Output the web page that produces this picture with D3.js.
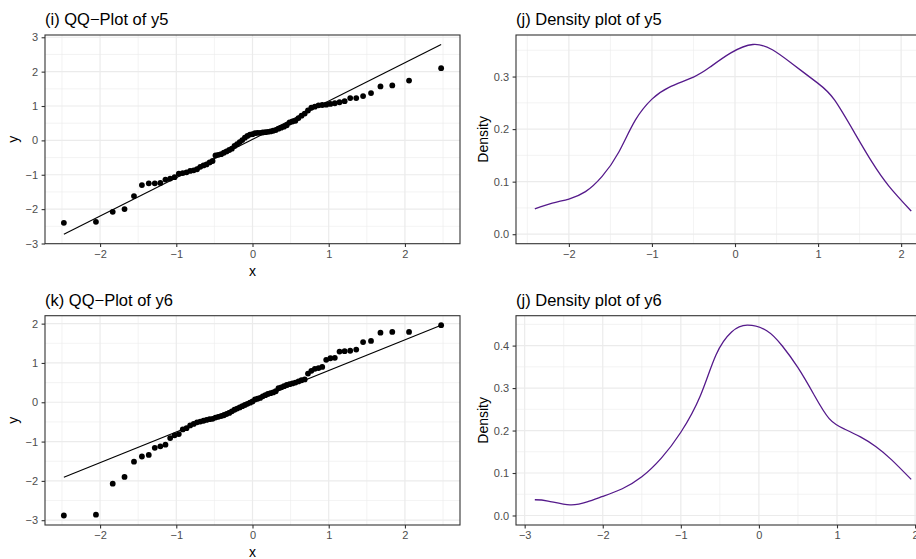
<!DOCTYPE html>
<html>
<head>
<meta charset="utf-8">
<script src="https://cdn.jsdelivr.net/npm/d3@7"></script>
<style>
  html, body { margin: 0; padding: 0; background: #ffffff; }
  svg { display: block; }
  text { font-family: "Liberation Sans", Arial, Helvetica, sans-serif; }
</style>
</head>
<body>
<div id="chart"></div>
<script>
// ---------- data ----------
// theoretical normal quantiles (n = 75)
const qqX = [-2.475,-2.054,-1.834,-1.679,-1.555,-1.451,-1.361,-1.282,-1.209,-1.142,
  -1.080,-1.022,-0.967,-0.915,-0.866,-0.818,-0.772,-0.728,-0.685,-0.643,
  -0.603,-0.563,-0.524,-0.486,-0.449,-0.412,-0.376,-0.341,-0.305,-0.271,
  -0.236,-0.202,-0.168,-0.134,-0.100,-0.067,-0.033,0.000,0.033,0.067,
  0.100,0.134,0.168,0.202,0.236,0.271,0.305,0.341,0.376,0.412,
  0.449,0.486,0.524,0.563,0.603,0.643,0.685,0.728,0.772,0.818,
  0.866,0.915,0.967,1.022,1.080,1.142,1.209,1.282,1.361,1.451,
  1.555,1.679,1.834,2.054,2.475];

const y5 = [-2.40,-2.37,-2.08,-2.00,-1.62,-1.30,-1.25,-1.25,-1.24,-1.14,
  -1.11,-1.07,-0.97,-0.95,-0.93,-0.89,-0.87,-0.84,-0.77,-0.73,
  -0.70,-0.64,-0.60,-0.44,-0.42,-0.40,-0.36,-0.32,-0.28,-0.24,
  -0.16,-0.11,-0.05,0.01,0.08,0.13,0.17,0.18,0.21,0.22,
  0.22,0.23,0.24,0.25,0.26,0.28,0.30,0.34,0.37,0.40,
  0.44,0.52,0.55,0.57,0.65,0.72,0.78,0.87,0.95,0.98,
  1.02,1.03,1.04,1.06,1.08,1.11,1.14,1.23,1.23,1.29,
  1.375,1.57,1.60,1.74,2.10];

const y6 = [-2.88,-2.86,-2.07,-1.90,-1.51,-1.38,-1.34,-1.16,-1.12,-1.08,
  -0.91,-0.84,-0.81,-0.69,-0.66,-0.59,-0.55,-0.51,-0.49,-0.47,
  -0.45,-0.43,-0.42,-0.39,-0.37,-0.35,-0.33,-0.30,-0.27,-0.23,
  -0.19,-0.16,-0.13,-0.10,-0.07,-0.04,-0.01,0.02,0.07,0.09,
  0.11,0.15,0.18,0.21,0.23,0.25,0.28,0.36,0.38,0.41,
  0.44,0.46,0.48,0.50,0.53,0.56,0.58,0.73,0.80,0.85,
  0.87,0.90,1.08,1.12,1.13,1.29,1.30,1.31,1.34,1.53,
  1.56,1.77,1.79,1.79,1.96];

const qqLineX = [-2.475, 2.475];
const qqLine5 = [-2.73, 2.79];
const qqLine6 = [-1.91, 1.96];

const dens5X = [-2.41,-2.2,-2.0,-1.8,-1.6,-1.4,-1.2,-1.0,-0.8,-0.5,-0.3,-0.05,0.216,0.45,0.7,1.0,1.2,1.45,1.65,1.85,2.121];
const dens5Y = [0.048,0.059,0.067,0.081,0.110,0.156,0.217,0.257,0.279,0.299,0.318,0.345,0.361,0.351,0.323,0.287,0.255,0.190,0.137,0.092,0.044];

const dens6X = [-2.87,-2.7,-2.42,-2.2,-2.0,-1.75,-1.5,-1.25,-1.0,-0.75,-0.55,-0.35,-0.15,0.1,0.3,0.5,0.7,0.9,1.1,1.3,1.5,1.7,1.95];
const dens6Y = [0.037,0.034,0.025,0.032,0.045,0.063,0.091,0.135,0.196,0.282,0.378,0.432,0.448,0.435,0.399,0.348,0.286,0.228,0.203,0.185,0.162,0.131,0.085];

const qqXTicks = [-2,-1,0,1,2];
const y5Ticks = [-3,-2,-1,0,1,2,3];
const y6Ticks = [-3,-2,-1,0,1,2];
const d5XTicks = [-2,-1,0,1,2];
const d5YTicks = [0,0.1,0.2,0.3];
const d6XTicks = [-3,-2,-1,0,1,2];
const d6YTicks = [0,0.1,0.2,0.3,0.4];

const titles = ["(i) QQ\u2212Plot of y5", "(j) Density plot of y5", "(k) QQ\u2212Plot of y6", "(j) Density plot of y6"];

// ---------- drawing ----------
const W = 916, H = 559;
const svg = d3.select("#chart").append("svg").attr("width", W).attr("height", H);
svg.append("rect").attr("width", W).attr("height", H).attr("fill", "#fff");

const fmtMinus = s => s.replace("-", "\u2212");

function expand(ext) { const r = ext[1] - ext[0]; return [ext[0] - 0.05 * r, ext[1] + 0.05 * r]; }

function minorBreaks(ticks, dom) {
  const step = ticks[1] - ticks[0];
  const out = [];
  for (let t = ticks[0] - step / 2; t <= ticks[ticks.length - 1] + step / 2 + 1e-9; t += step) {
    if (t >= dom[0] && t <= dom[1]) out.push(t);
  }
  return out;
}

function panel(opt) {
  const { left, right, top, bottom, xDom, yDom, xTicks, yTicks, yFmt, title, xTitle, yTitle, yTitleX } = opt;
  const g = svg.append("g");
  const x = d3.scaleLinear().domain(xDom).range([left, right]);
  const y = d3.scaleLinear().domain(yDom).range([bottom, top]);
  const clipId = "clip" + Math.round(left) + "_" + Math.round(top);
  svg.append("clipPath").attr("id", clipId).append("rect")
    .attr("x", left).attr("y", top).attr("width", right - left).attr("height", bottom - top);

  const grid = g.append("g");
  minorBreaks(xTicks, xDom).forEach(v => grid.append("line")
    .attr("x1", x(v)).attr("x2", x(v)).attr("y1", top).attr("y2", bottom)
    .attr("stroke", "#EBEBEB").attr("stroke-width", 0.6));
  minorBreaks(yTicks, yDom).forEach(v => grid.append("line")
    .attr("x1", left).attr("x2", right).attr("y1", y(v)).attr("y2", y(v))
    .attr("stroke", "#EBEBEB").attr("stroke-width", 0.6));
  xTicks.forEach(v => grid.append("line")
    .attr("x1", x(v)).attr("x2", x(v)).attr("y1", top).attr("y2", bottom)
    .attr("stroke", "#EBEBEB").attr("stroke-width", 1.2));
  yTicks.forEach(v => grid.append("line")
    .attr("x1", left).attr("x2", right).attr("y1", y(v)).attr("y2", y(v))
    .attr("stroke", "#EBEBEB").attr("stroke-width", 1.2));

  const plot = g.append("g").attr("clip-path", `url(#${clipId})`);
  opt.draw(plot, x, y);

  g.append("rect").attr("x", left).attr("y", top).attr("width", right - left).attr("height", bottom - top)
    .attr("fill", "none").attr("stroke", "#333333").attr("stroke-width", 1.1);

  // axes
  const xa = d3.axisBottom(x).tickValues(xTicks).tickSize(3.4).tickPadding(3)
    .tickFormat(d => fmtMinus(d3.format("d")(d)));
  const xg = g.append("g").attr("transform", `translate(0,${bottom})`).call(xa);
  const ya = d3.axisLeft(y).tickValues(yTicks).tickSize(3.4).tickPadding(3.5)
    .tickFormat(d => fmtMinus(yFmt(d)));
  const yg = g.append("g").attr("transform", `translate(${left},0)`).call(ya);
  [xg, yg].forEach(a => {
    a.select(".domain").remove();
    a.selectAll(".tick line").attr("stroke", "#333333").attr("stroke-width", 1.1);
    a.selectAll(".tick text").attr("fill", "#4D4D4D").attr("font-size", "11px")
      .attr("font-family", '"Liberation Sans", Arial, sans-serif');
  });

  g.append("text").attr("x", left).attr("y", top - 10).attr("font-size", "16.5px")
    .attr("fill", "#000").text(title);
  if (xTitle) g.append("text")
    .attr("x", x(0)).attr("y", bottom + 32).attr("text-anchor", "middle")
    .attr("font-size", "14px").attr("fill", "#000").text(xTitle);
  if (yTitle) g.append("text")
    .attr("transform", `translate(${yTitleX},${(top + bottom) / 2}) rotate(-90)`)
    .attr("text-anchor", "middle").attr("font-size", "14px").attr("fill", "#000").text(yTitle);
}

function qqDraw(yv, lineY) {
  return (p, x, y) => {
    p.append("line").attr("x1", x(qqLineX[0])).attr("y1", y(lineY[0]))
      .attr("x2", x(qqLineX[1])).attr("y2", y(lineY[1]))
      .attr("stroke", "#000").attr("stroke-width", 1.1);
    p.selectAll("circle").data(qqX).enter().append("circle")
      .attr("cx", d => x(d)).attr("cy", (d, i) => y(yv[i])).attr("r", 2.9).attr("fill", "#000");
  };
}

function densDraw(xs, ys) {
  return (p, x, y) => {
    const line = d3.line().x(i => x(xs[i])).y(i => y(ys[i])).curve(d3.curveNatural);
    p.append("path").attr("d", line(d3.range(xs.length)))
      .attr("fill", "none").attr("stroke", "#551A8B").attr("stroke-width", 1.3);
  };
}

const fmtInt = d3.format("d");
const fmt1 = d3.format(".1f");

panel({ left: 45, right: 460, top: 35, bottom: 243.7,
  xDom: expand(d3.extent(qqX)), yDom: expand(d3.extent(y5.concat(qqLine5))),
  xTicks: qqXTicks, yTicks: y5Ticks, yFmt: fmtInt, title: titles[0],
  xTitle: "x", yTitle: "y", yTitleX: 18, draw: qqDraw(y5, qqLine5) });

panel({ left: 516, right: 930, top: 35, bottom: 243.7,
  xDom: expand(d3.extent(dens5X)), yDom: expand([0, d3.max(dens5Y)]),
  xTicks: d5XTicks, yTicks: d5YTicks, yFmt: fmt1, title: titles[1],
  yTitle: "Density", yTitleX: 488, draw: densDraw(dens5X, dens5Y) });

panel({ left: 45, right: 460, top: 315.7, bottom: 525,
  xDom: expand(d3.extent(qqX)), yDom: expand(d3.extent(y6.concat(qqLine6))),
  xTicks: qqXTicks, yTicks: y6Ticks, yFmt: fmtInt, title: titles[2],
  xTitle: "x", yTitle: "y", yTitleX: 18, draw: qqDraw(y6, qqLine6) });

panel({ left: 516, right: 930, top: 315.7, bottom: 525,
  xDom: expand(d3.extent(dens6X)), yDom: expand([0, d3.max(dens6Y)]),
  xTicks: d6XTicks, yTicks: d6YTicks, yFmt: fmt1, title: titles[3],
  yTitle: "Density", yTitleX: 488, draw: densDraw(dens6X, dens6Y) });
</script>
</body>
</html>
